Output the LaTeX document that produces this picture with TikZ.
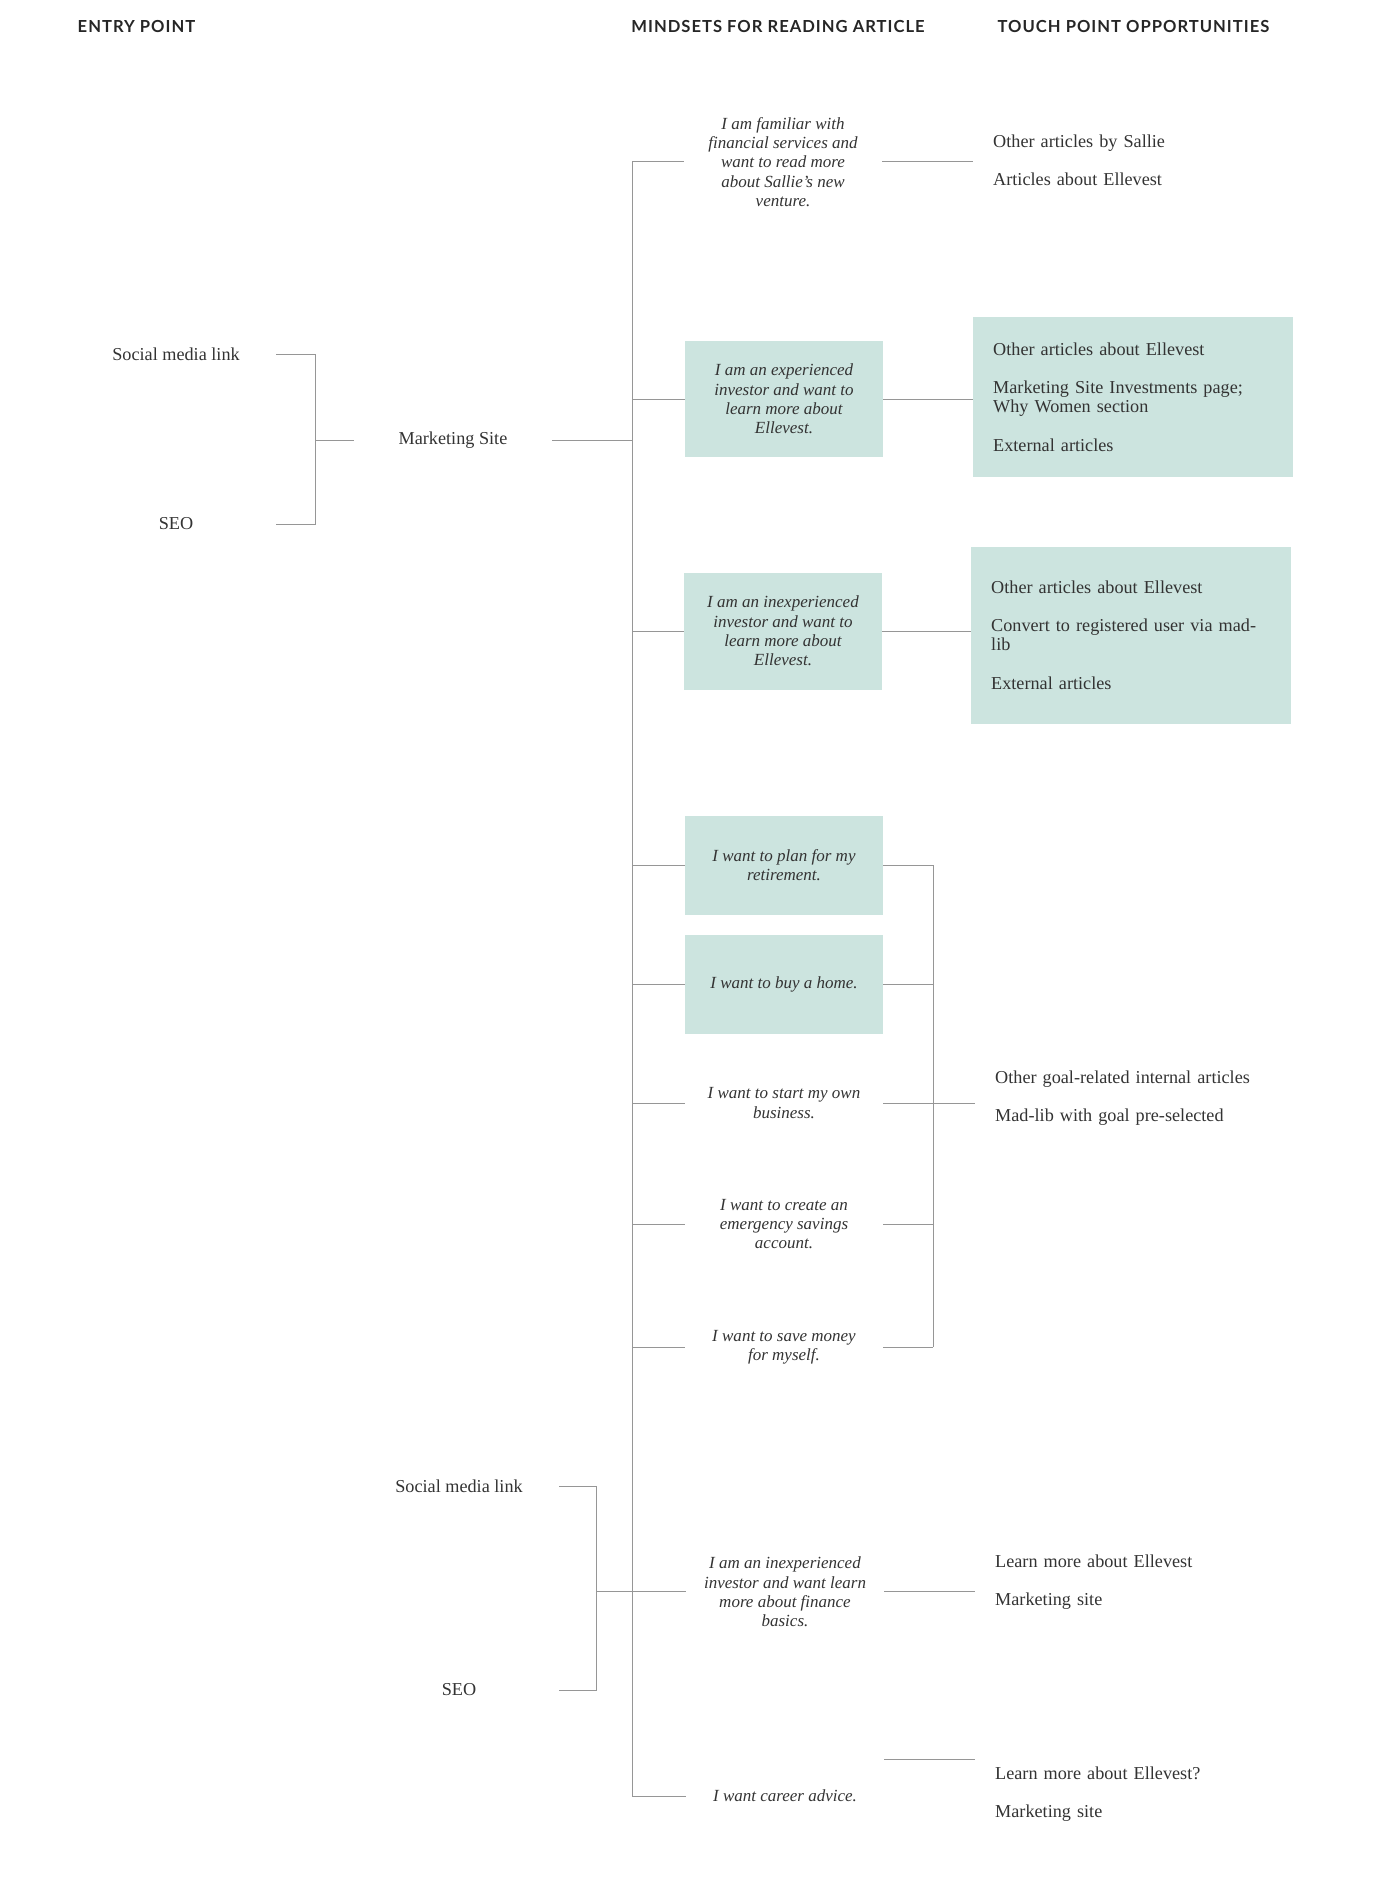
\documentclass[tikz,border=0pt]{standalone}
\usepackage{fontspec}
\setmainfont{Liberation Serif}
\newfontfamily\hdrfont[LetterSpace=6]{Lato}
\usetikzlibrary{calc}
\definecolor{boxfill}{RGB}{204,228,223}
\definecolor{txt}{RGB}{51,51,51}
\definecolor{ln}{RGB}{150,150,150}
\begin{document}
\begin{tikzpicture}[x=1pt,y=-1pt,
 every node/.style={text=txt,font=\fontsize{18.2}{19.2}\selectfont, inner sep=0pt},
 hdr/.style={font=\hdrfont\bfseries\fontsize{16.6}{19}\selectfont, text=black!85},
 mind/.style={minimum width=198pt, align=center, font=\itshape\fontsize{17}{19.2}\selectfont},
 mbox/.style={mind, fill=boxfill, minimum height=#1},
 touch/.style={anchor=west, align=left, text width=280pt, inner xsep=20pt},
 tbox/.style={touch, fill=boxfill, minimum height=#1},
 entry/.style={minimum width=200pt, align=center},
 conn/.style={draw=ln, line width=1pt}]
\useasboundingbox (0,0) rectangle (1396,1881);
% headers
\node[hdr] (h1) at (136.5,27) {ENTRY POINT};
\node[hdr] (h2) at (778,27) {MINDSETS FOR READING ARTICLE};
\node[hdr] (h3) at (1133.5,27) {TOUCH POINT OPPORTUNITIES};
% entry points
\node[entry] (s1) at (176,354) {Social media link};
\node[entry] (seo1) at (176,524) {SEO};
\coordinate (b1) at (315,440);
\node[minimum width=198pt] (ms) at (453,440) {Marketing Site};
\coordinate (sp) at (632,440);
% mindsets
\node[mind] (m1) at (783,162) {I am familiar with\\financial services and\\want to read more\\about Sallie’s new\\venture.};
\node[mbox=116pt] (m2) at (784,399) {I am an experienced\\investor and want to\\learn more about\\Ellevest.};
\node[mbox=117pt] (m3) at (783,631) {I am an inexperienced\\investor and want to\\learn more about\\Ellevest.};
\node[mbox=99pt] (m4) at (784,865) {I want to plan for my\\retirement.};
\node[mbox=99pt] (m5) at (784,984) {I want to buy a home.};
\node[mind] (m6) at (784,1103) {I want to start my own\\business.};
\node[mind] (m7) at (784,1224) {I want to create an\\emergency savings\\account.};
\node[mind] (m8) at (784,1347) {I want to save money\\for myself.};
\node[mind] (m9) at (785,1592) {I am an inexperienced\\investor and want learn\\more about finance\\basics.};
\node[mind] (m10) at (785,1796) {I want career advice.};
% touch points
\node[touch] (t1) at (973,160) {Other articles by Sallie\\[19.2pt]Articles about Ellevest};
\node[tbox=160pt] (t2) at (973,397) {Other articles about Ellevest\\[19.2pt]Marketing Site Investments page;\\Why Women section\\[19.2pt]External articles};
\node[tbox=177pt] (t3) at (971,635) {Other articles about Ellevest\\[19.2pt]Convert to registered user via mad-\\lib\\[19.2pt]External articles};
\node[touch] (tg) at (975,1098) {Other goal-related internal articles\\[19.2pt]Mad-lib with goal pre-selected};
\node[touch] (t9) at (975,1582) {Learn more about Ellevest\\[19.2pt]Marketing site};
\node[touch] (t10) at (975,1794) {Learn more about Ellevest?\\[19.2pt]Marketing site};
% lower entry points
\node[entry] (s2) at (459,1486) {Social media link};
\node[entry] (seo2) at (459,1690) {SEO};
\coordinate (b2) at (596,1591);
\coordinate (gb) at (933,1103);
\coordinate (c10) at (884,1759);
% connectors
\draw[conn] (s1.east) -- (s1.east -| b1) -- (seo1.east -| b1) -- (seo1.east);
\draw[conn] (b1) -- (ms.west);
\draw[conn] (ms.east) -- (sp);
\draw[conn] (m1.west -| sp) -- (m10.west -| sp);
\foreach \m in {m1,m2,m3,m4,m5,m6,m7,m8,m10} \draw[conn] (\m.west -| sp) -- (\m.west);
\draw[conn] (s2.east) -- (s2.east -| b2) -- (seo2.east -| b2) -- (seo2.east);
\draw[conn] (b2) -- (b2 -| m9.west);
\draw[conn] (m1.east) -- (m1.east -| t1.west);
\draw[conn] (m2.east) -- (m2.east -| t2.west);
\draw[conn] (m3.east) -- (m3.east -| t3.west);
\foreach \m in {m4,m5,m6,m7,m8} \draw[conn] (\m.east) -- (\m.east -| gb);
\draw[conn] (m4.east -| gb) -- (m8.east -| gb);
\draw[conn] (gb) -- (gb -| tg.west);
\draw[conn] (b2 -| m9.east) -- (b2 -| t9.west);
\draw[conn] (c10) -- (c10 -| t10.west);
\end{tikzpicture}
\end{document}
